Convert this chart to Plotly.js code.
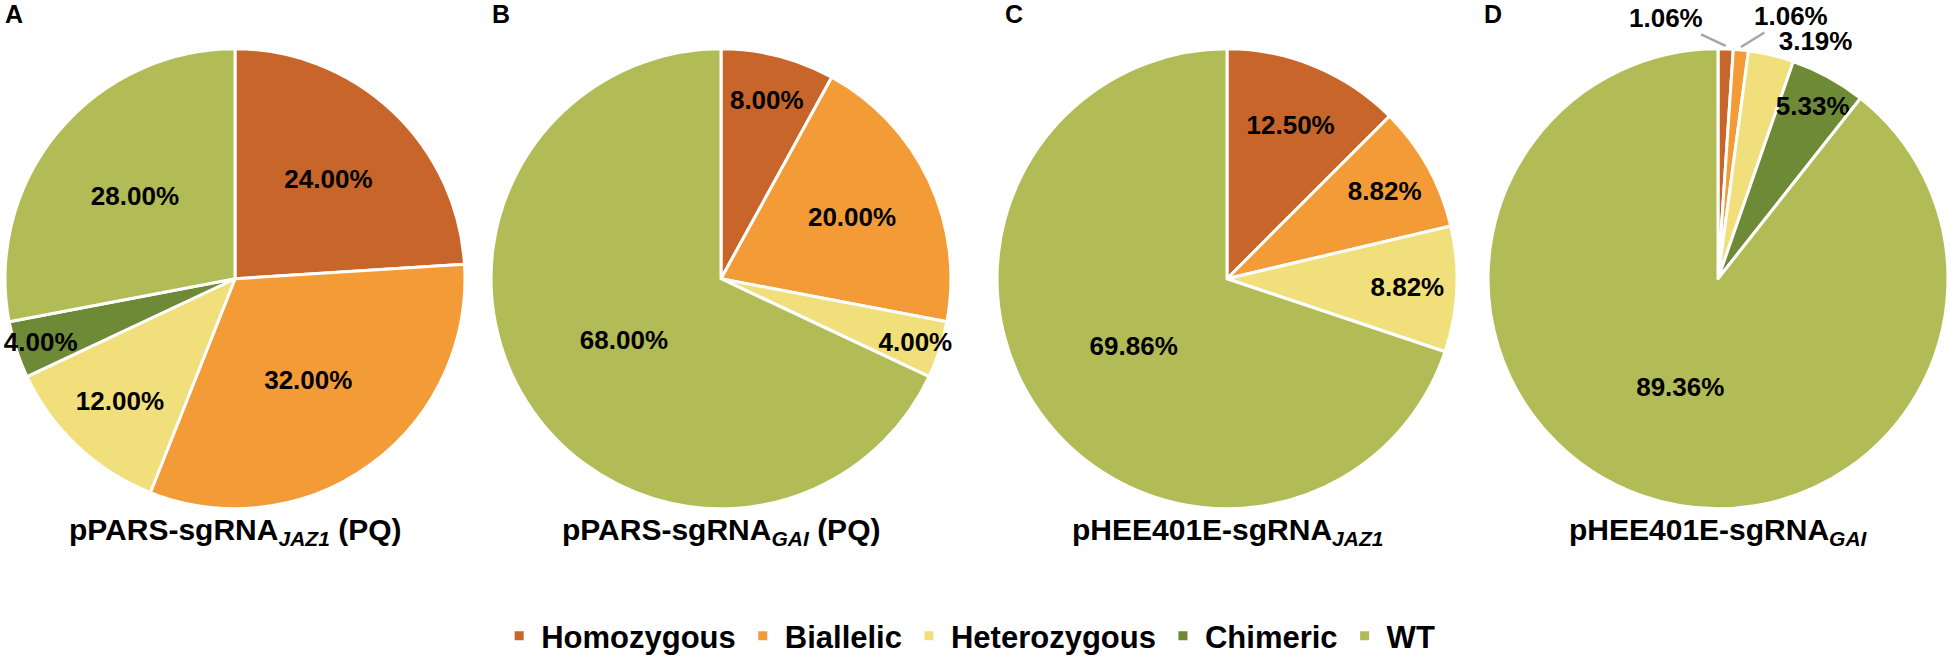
<!DOCTYPE html>
<html>
<head>
<meta charset="utf-8">
<script src="https://cdn.plot.ly/plotly-3.0.1.min.js"></script>
<style>
html,body{margin:0;padding:0;background:#fff;}
#chart{width:1949px;height:663px;}
</style>
</head>
<body>
<div id="chart"></div>
<script>
// ---- data ----
const categories = ['Homozygous', 'Biallelic', 'Heterozygous', 'Chimeric', 'WT'];
const valuesA = [24.00, 32.00, 12.00, 4.00, 28.00];
const valuesB = [8.00, 20.00, 4.00, 0, 68.00];
const valuesC = [12.50, 8.82, 8.82, 0, 69.86];
const valuesD = [1.06, 1.06, 3.19, 5.33, 89.36];
const panelLetters = ['A', 'B', 'C', 'D'];
const panelTitles = [
  'pPARS-sgRNA<sub><i>JAZ1</i></sub> (PQ)',
  'pPARS-sgRNA<sub><i>GAI</i></sub> (PQ)',
  'pHEE401E-sgRNA<sub><i>JAZ1</i></sub>',
  'pHEE401E-sgRNA<sub><i>GAI</i></sub>'
];
const colors = ['#C8652A', '#F39C37', '#F0DF7B', '#6E8A37', '#B1BC56'];

// ---- layout helpers ----
const W = 1949, H = 663;
const FONT = 'Arial, "Liberation Sans", Helvetica, sans-serif';
const pies = [
  {vals: valuesA, cx: 235},
  {vals: valuesB, cx: 721},
  {vals: valuesC, cx: 1227},
  {vals: valuesD, cx: 1718}
];
const R = 231, CY = 280;
const letterX = [3, 490, 1003, 1482];

// slice label placement: 'inside' / 'outside' / 'none' (leader-line label)
const placements = [
  ['inside', 'inside', 'inside', 'inside', 'inside'],
  ['inside', 'inside', 'inside', 'inside', 'inside'],
  ['inside', 'inside', 'inside', 'inside', 'inside'],
  ['none', 'none', 'outside', 'inside', 'inside']
];
// pixel offsets of leader-line labels from their slice edge
const leaderOffsets = {'3-0': [-60, -28], '3-1': [50, -31]};

const data = pies.map((p, i) => ({
  type: 'pie',
  labels: categories,
  values: p.vals,
  sort: false,
  direction: 'clockwise',
  rotation: 0,
  marker: {colors: colors, line: {color: '#ffffff', width: 3}},
  texttemplate: p.vals.map(v => v > 0 ? '%{percent:.2%}' : ''),
  textposition: placements[i],
  insidetextorientation: 'horizontal',
  insidetextfont: {family: FONT, size: 26, color: '#000000', weight: 'bold'},
  outsidetextfont: {family: FONT, size: 26, color: '#000000', weight: 'bold'},
  hoverinfo: 'skip',
  showlegend: i === 0,
  automargin: false,
  domain: {
    x: [(p.cx - R) / W, Math.min(1, (p.cx + R) / W)],
    y: [(H - (CY + R)) / H, (H - (CY - R)) / H]
  }
}));

const annotations = [];
pies.forEach((p, i) => {
  annotations.push({
    xref: 'paper', yref: 'paper',
    x: letterX[i] / W, y: 1 + 2 / H,
    xanchor: 'left', yanchor: 'top',
    text: '<b>' + panelLetters[i] + '</b>',
    showarrow: false,
    font: {family: FONT, size: 25, color: '#000'}
  });
  annotations.push({
    xref: 'paper', yref: 'paper',
    x: p.cx / W, y: (H - 534) / H,
    xanchor: 'center', yanchor: 'middle',
    text: '<b>' + panelTitles[i] + '</b>',
    showarrow: false,
    font: {family: FONT, size: 30, color: '#000'}
  });
  // leader-line labels for tiny slices, pointing at slice edge derived from the values
  const total = p.vals.reduce((a, b) => a + b, 0);
  let cum = 0;
  p.vals.forEach((v, j) => {
    const mid = (cum + v / 2) / total;
    cum += v;
    if (placements[i][j] !== 'none') return;
    const ang = mid * 2 * Math.PI;
    const px = p.cx + R * Math.sin(ang);
    const py = CY - R * Math.cos(ang);
    const off = leaderOffsets[i + '-' + j];
    annotations.push({
      xref: 'paper', yref: 'paper',
      x: px / W, y: (H - py + 3) / H,
      ax: off[0], ay: off[1],
      text: '<b>' + (v / total * 100).toFixed(2) + '%</b>',
      showarrow: true, arrowhead: 0, arrowwidth: 2.5, arrowcolor: '#A6A6A6',
      standoff: 0, startstandoff: 0,
      font: {family: FONT, size: 26, color: '#000'}
    });
  });
});

const layout = {
  width: W, height: H,
  margin: {l: 0, r: 0, t: 0, b: 0},
  paper_bgcolor: '#ffffff',
  plot_bgcolor: '#ffffff',
  showlegend: true,
  uniformtext: {mode: 'show', minsize: 26},
  legend: {
    orientation: 'h',
    x: 0.497, xanchor: 'center',
    y: 24 / H, yanchor: 'middle',
    font: {family: FONT, size: 31, color: '#000', weight: 'bold'},
    itemwidth: 34,
    itemclick: false, itemdoubleclick: false,
    traceorder: 'normal'
  },
  annotations: annotations
};

Plotly.newPlot('chart', data, layout, {displayModeBar: false, staticPlot: true});
</script>
</body>
</html>
